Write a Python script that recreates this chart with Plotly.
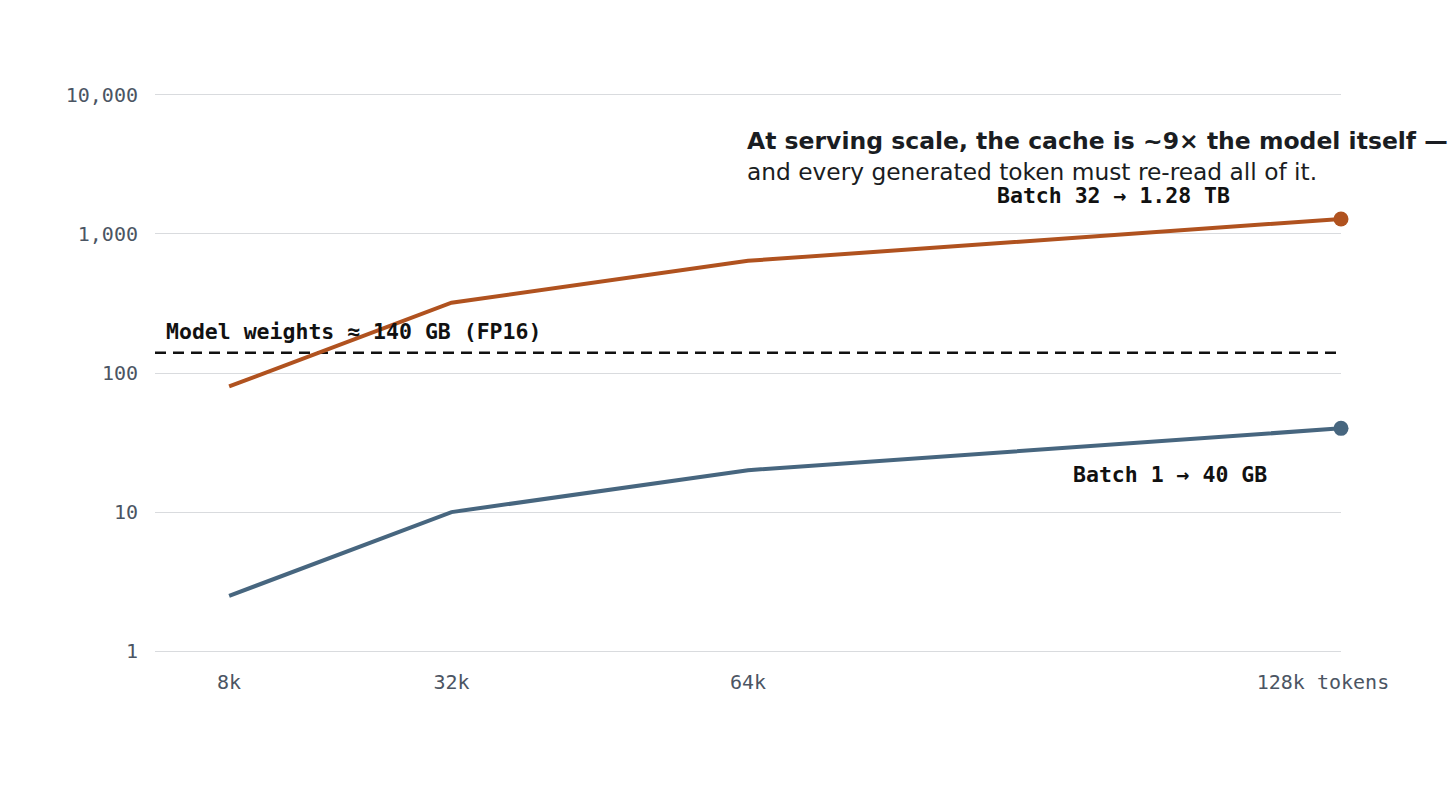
import math
import plotly.graph_objects as go

context_k = [8, 32, 64, 128]
tick_labels = ["8k", "32k", "64k", "128k tokens\u00a0\u00a0\u00a0"]
batch1_gb = [2.5, 10, 20, 40]
batch32_gb = [80, 320, 640, 1280]
weights_gb = 140
y_ticks = [1, 10, 100, 1000, 10000]
y_tick_labels = ["1", "10", "100", "1,000", "10,000"]

ORANGE = "#b0521f"
BLUE = "#47667f"
MONO = "DejaVu Sans Mono"
INK = "#111111"

fig = go.Figure()

fig.add_trace(go.Scatter(
    x=[0, 128], y=[weights_gb, weights_gb], mode="lines",
    line=dict(color=INK, width=2.5, dash="11px,7px"),
    hoverinfo="skip", showlegend=False))

fig.add_trace(go.Scatter(
    x=context_k, y=batch32_gb, mode="lines",
    line=dict(color=ORANGE, width=4), showlegend=False))
fig.add_trace(go.Scatter(
    x=[context_k[-1]], y=[batch32_gb[-1]], mode="markers",
    marker=dict(color=ORANGE, size=15), showlegend=False, cliponaxis=False))

fig.add_trace(go.Scatter(
    x=context_k, y=batch1_gb, mode="lines",
    line=dict(color=BLUE, width=4), showlegend=False))
fig.add_trace(go.Scatter(
    x=[context_k[-1]], y=[batch1_gb[-1]], mode="markers",
    marker=dict(color=BLUE, size=15), showlegend=False, cliponaxis=False))

fig.add_annotation(x=0.95, y=math.log10(weights_gb), xref="x", yref="y", yshift=21,
                   text="<b>Model weights ≈ 140 GB (FP16)</b>", showarrow=False,
                   xanchor="left", yanchor="middle",
                   font=dict(family=MONO, size=21.5, color=INK))
fig.add_annotation(x=128, y=math.log10(batch32_gb[-1]), xref="x", yref="y",
                   xshift=-228, yshift=23,
                   text="<b>Batch 32 → 1.28 TB</b>", showarrow=False,
                   xanchor="center", yanchor="middle",
                   font=dict(family=MONO, size=21.5, color=INK))
fig.add_annotation(x=128, y=math.log10(batch1_gb[-1]), xref="x", yref="y",
                   xshift=-171, yshift=-46,
                   text="<b>Batch 1 → 40 GB</b>", showarrow=False,
                   xanchor="center", yanchor="middle",
                   font=dict(family=MONO, size=21.5, color=INK))
fig.add_annotation(x=64, y=math.log10(10000), xref="x", yref="y", yshift=-46,
                   text="<b>At serving scale, the cache is ~9× the model itself —</b>",
                   showarrow=False, xanchor="left", yanchor="middle", xshift=-3,
                   font=dict(family="DejaVu Sans", size=23.5, color="#1a1d22"))
fig.add_annotation(x=64, y=math.log10(10000), xref="x", yref="y", yshift=-77,
                   text="and every generated token must re-read all of it.",
                   showarrow=False, xanchor="left", yanchor="middle", xshift=-3,
                   font=dict(family="DejaVu Sans", size=23.3, color="#1a1d22"))

fig.update_layout(
    width=1456, height=805,
    margin=dict(l=155, r=115, t=92, b=151),
    paper_bgcolor="white", plot_bgcolor="white",
    xaxis=dict(range=[0, 128], tickvals=context_k, ticktext=tick_labels,
               showgrid=False, zeroline=False, showline=False,
               ticks="outside", ticklen=10, tickcolor="rgba(0,0,0,0)",
               tickfont=dict(family=MONO, size=20, color="#4b5563")),
    yaxis=dict(type="log", range=[-0.02, 4.02], tickvals=y_ticks, ticktext=y_tick_labels,
               showgrid=True, gridcolor="#d9dbde", gridwidth=1,
               zeroline=False, showline=False,
               ticks="outside", ticklen=12, tickcolor="rgba(0,0,0,0)",
               tickfont=dict(family=MONO, size=20, color="#4b5563")),
)

fig.write_html("out.html")
